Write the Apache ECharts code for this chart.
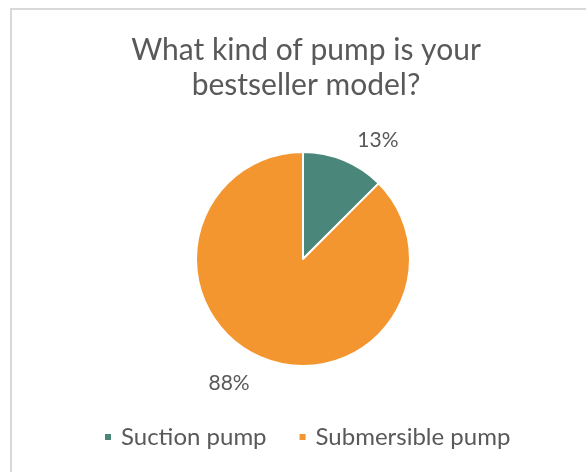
<!DOCTYPE html>
<html>
<head>
<meta charset="utf-8">
<script src="https://cdn.jsdelivr.net/npm/echarts@6/dist/echarts.min.js"></script>
<style>
  html, body { margin: 0; padding: 0; background: #fff; }
  #chart { width: 586px; height: 472px; }
</style>
</head>
<body>
<div id="chart"></div>
<script>
// data
const categories = ['Suction pump', 'Submersible pump'];
const shares = [12.5, 87.5];
const colors = ['#4A877A', '#F3962F'];

const textColor = '#595959';
const fontFamily = 'Lato, "Open Sans", sans-serif';

// small nudges so the percent labels sit where Excel put them
const labelNudge = [[3, -7], [-2, 12]];

const chart = echarts.init(document.getElementById('chart'));

const option = {
    backgroundColor: '#fff',
    color: colors,
    // light frame of the chart area (left and top edges visible)
    graphic: [{
        type: 'rect',
        shape: { x: 11, y: 9, width: 640, height: 520 },
        style: { fill: 'none', stroke: '#d9d9d9', lineWidth: 2 },
        silent: true
    }],
    title: {
        text: 'What kind of pump is your\nbestseller model?',
        left: 301,
        textAlign: 'center',
        top: 28,
        textStyle: {
            color: textColor,
            fontFamily: fontFamily,
            fontWeight: 'normal',
            fontSize: 30,
            lineHeight: 35
        }
    },
    legend: {
        bottom: 18,
        left: 98,
        itemWidth: 8,
        itemHeight: 8,
        itemGap: 31,
        icon: 'rect',
        textStyle: {
            color: textColor,
            fontFamily: fontFamily,
            fontSize: 24,
            padding: [0, 0, 0, 4]
        },
        data: categories
    },
    series: [{
        type: 'pie',
        center: [303, 259],
        radius: 107,
        startAngle: 90,
        clockwise: true,
        itemStyle: { borderColor: '#fff', borderWidth: 2 },
        label: {
            show: true,
            position: 'outside',
            color: textColor,
            fontFamily: fontFamily,
            fontSize: 21,
            formatter: p => Math.round(p.percent) + '%'
        },
        labelLine: { show: false, length: 14, length2: 0 },
        labelLayout: p => ({ dx: labelNudge[p.dataIndex][0], dy: labelNudge[p.dataIndex][1] }),
        emphasis: { disabled: true },
        data: categories.map((name, i) => ({ name: name, value: shares[i] }))
    }]
};

chart.setOption(option);
</script>
</body>
</html>
